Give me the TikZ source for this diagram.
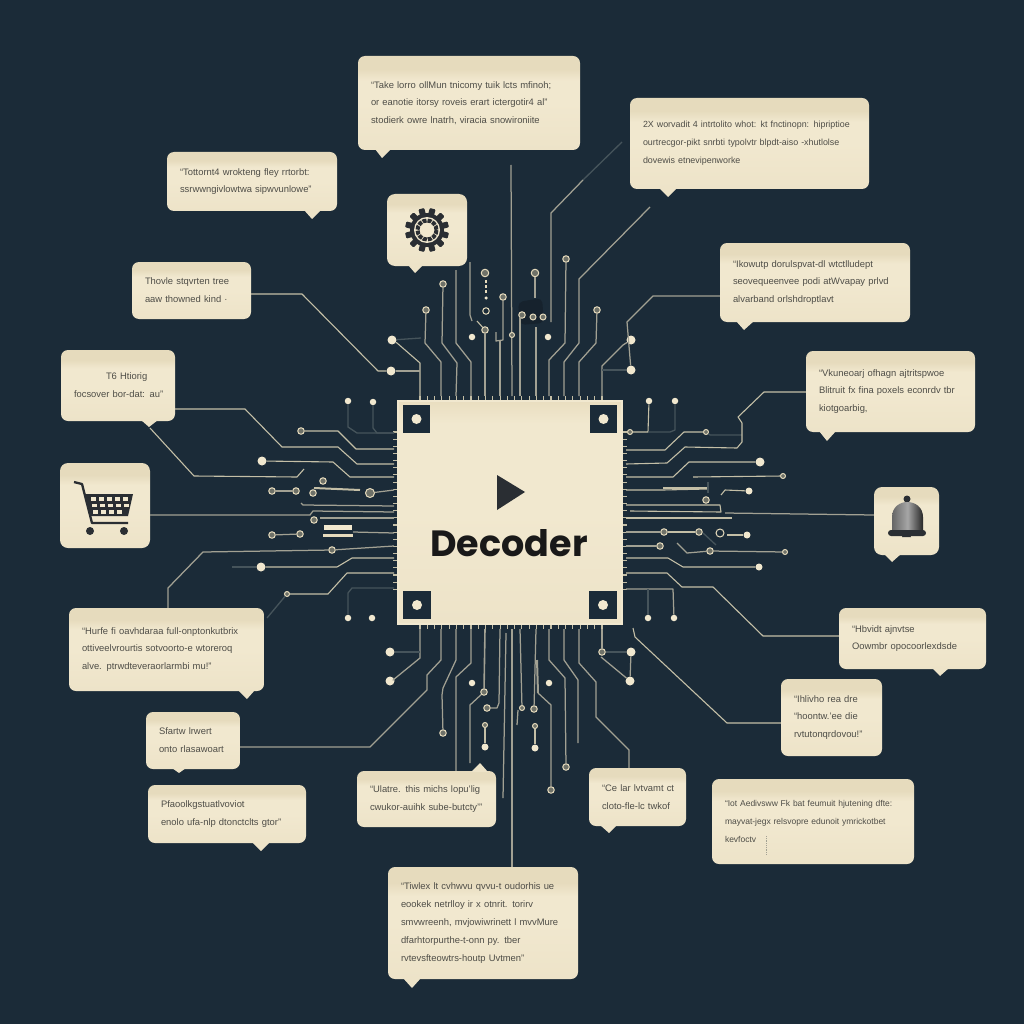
\documentclass[tikz,border=0pt]{standalone}
\usepackage{fontspec}
\setmainfont{Liberation Sans}
\newfontfamily\titlefont{Poppins}
\definecolor{boardbg}{HTML}{1B2B38}
\definecolor{creamlow}{HTML}{EDE3C8}
\definecolor{creamhigh}{HTML}{F1E8CF}
\definecolor{creamband}{HTML}{E6DBBD}
\definecolor{chipband}{HTML}{E9DEC0}
\definecolor{inkgray}{HTML}{4E4D47}
\definecolor{iconink}{HTML}{2A2E33}
\definecolor{tracelight}{HTML}{C4BFA7}
\definecolor{tracegray}{HTML}{A2A193}
\definecolor{tracedim}{HTML}{46545B}
\definecolor{ringcore}{HTML}{6E7168}
\definecolor{blobdark}{HTML}{16222D}
\pgfdeclareverticalshading{creamshade}{100bp}{color(0bp)=(creamlow); color(25bp)=(creamlow); color(50bp)=(creamhigh); color(62bp)=(creamhigh); color(68bp)=(creamband); color(75bp)=(creamband); color(100bp)=(creamband)}
\pgfdeclareverticalshading{chipshade}{100bp}{color(0bp)=(creamlow); color(25bp)=(creamlow); color(50bp)=(creamhigh); color(70bp)=(creamhigh); color(75bp)=(chipband); color(100bp)=(chipband)}
\tikzset{
  bubble/.style 2 args={shading=creamshade, rounded corners=7pt, inner xsep=0pt, inner ysep=0pt,
    minimum width=#1pt, minimum height=#2pt, text width={#1pt-26pt}, align=left, text=inkgray,
    font=\fontsize{9.4}{17.8}\selectfont},
  iconbox/.style 2 args={shading=creamshade, rounded corners=8pt, minimum width=#1pt, minimum height=#2pt},
  tail/.style={fill=creamlow},
  trace/.style={draw=tracelight, line width=1.1pt, line join=round},
  tracemid/.style={draw=tracegray, line width=1.25pt, line join=round},
  tracefaint/.style={draw=tracedim, line width=1.3pt, line join=round},
  tracebold/.style={draw=tracelight, line width=2pt},
  pintick/.style={draw=tracelight, line width=1.1pt},
  pad/.style={circle, fill=creamhigh, inner sep=0pt, minimum size=9pt},
  padsmall/.style={circle, fill=creamhigh, inner sep=0pt, minimum size=6.5pt},
  ring/.style={circle, draw=creamband, fill=ringcore, line width=1pt, inner sep=0pt, minimum size=6.5pt},
  cornerbox/.style={fill=boardbg, inner sep=0pt, minimum width=27.5pt, minimum height=27.5pt},
  cornerdot/.style={circle, fill=creamhigh, inner sep=0pt, minimum size=10pt}
}
\begin{document}
\begin{tikzpicture}[x=1pt, y=-1pt]
    \useasboundingbox (0,0) rectangle (1024,1024);
    \fill[boardbg] (0,0) rectangle (1024,1024);
    % Dark patch behind the top traces
    \fill[blobdark, rounded corners=5pt] (518,302) -- (542,298) -- (544,323) -- (520,325) -- cycle;
    % Chip
    \node[shading=chipshade, draw=creamhigh, line width=2pt, minimum width=224pt, minimum height=223pt, inner sep=0pt] (chip) at (510,512.5) {};
    \node[cornerbox] (cornerta) at (416.5,419) {};
    \node[cornerbox] (cornertb) at (603.5,419) {};
    \node[cornerbox] (cornerba) at (417,605) {};
    \node[cornerbox] (cornerbb) at (603,605) {};
    \node[cornerdot] at (cornerta) {};
    \node[cornerdot] at (cornertb) {};
    \node[cornerdot] at (cornerba) {};
    \node[cornerdot] at (cornerbb) {};
    \fill[iconink] (497,475) -- (525,492) -- (497,510) -- cycle;
    \node[font=\titlefont\fontsize{36.5}{36.5}\selectfont\bfseries, text=black!90] (chiptitle) at (509,543) {Decoder};
    % Pins
    \foreach \i in {0,...,25} {
        \draw[pintick] ({420+7.28*\i},396) -- ++(0,4);
        \draw[pintick] ({420+7.28*\i},625) -- ++(0,4);
    }
    \foreach \i in {0,...,22} {
        \draw[pintick] (393,{432+7.15*\i}) -- ++(4,0);
        \draw[pintick] (623,{432+7.15*\i}) -- ++(4,0);
    }
    \foreach \x in {420,441,456,471,485,500,512,520,536,549,564,579,602} {
        \coordinate (pt\x) at (\x,396);
        \coordinate (pb\x) at (\x,629);
    }
    \foreach \y in {433,449,464,477,490,506,512,518,533,546,558,573,588}
        \coordinate (pl\y) at (394,\y);
    \foreach \y in {432,450,464,477,490,505,518,532,546,558,573,589}
        \coordinate (pr\y) at (626,\y);
    % Quote bubbles
    \node[bubble={222}{94}] (quotea) at (469,103) {“Take  lorro ollMun tnicomy tuik lcts mfinoh;\\or eanotie itorsy roveis erart ictergotir4 al”\\stodierk owre lnatrh, viracia snowironiite};
    \fill[tail] (375,149) -- (382,158) -- (391,149) -- cycle;
    \node[bubble={239}{91}, font=\fontsize{8.9}{17.8}\selectfont] (quoteb) at (749.5,143.5) {2X worvadit 4 intrtolito whot: kt fnctinopn: hipriptioe\\ourtrecgor-pikt snrbti typolvtr blpdt-aiso -xhutlolse\\dovewis etnevipenworke};
    \fill[tail] (659,188) -- (668,197) -- (677,188) -- cycle;
    \node[bubble={170}{59}] (quotec) at (252,181.5) {“Tottornt4 wrokteng  fley  rrtorbt:\\ssrwwngivlowtwa  sipwvunlowe”};
    \fill[tail] (304,210) -- (312,219) -- (321,210) -- cycle;
    \node[bubble={119}{57}] (quoted) at (191.5,290.5) {Thovle stqvrten  tree\\aaw thowned kind ·};
    \node[bubble={114}{71}] (quotee) at (118,385.5) {\hspace*{32pt}T6 Htiorig\\\mbox{focsover bor-dat: au”}};
    \fill[tail] (141,420) -- (149,427) -- (158,420) -- cycle;
    \node[bubble={190}{79}] (quotef) at (815,282.5) {“Ikowutp  dorulspvat-dl wtctlludept\\seovequeenvee  podi  atWvapay  prlvd\\alvarband  orlshdroptlavt};
    \fill[tail] (736,321) -- (744,330) -- (754,321) -- cycle;
    \node[bubble={169}{81}] (quoteg) at (890.5,391.5) {“Vkuneoarj ofhagn ajtritspwoe\\Blitruit fx fina poxels econrdv tbr\\kiotgoarbig,};
    \fill[tail] (819,431) -- (827,441) -- (836,431) -- cycle;
    \node[bubble={147}{61}] (quoteh) at (912.5,638.5) {“Hbvidt ajnvtse\\Oowmbr opocoorlexdsde};
    \fill[tail] (932,668) -- (940,676) -- (949,668) -- cycle;
    \node[bubble={101}{77}] (quotei) at (831.5,717.5) {“Ihlivho rea  dre\\“hoontw.’ee  die\\rvtutonqrdovou!”};
    \node[bubble={202}{85}, font=\fontsize{8.5}{17.8}\selectfont] (quotej) at (813,821.5) {“Iot Aedivsww Fk bat  feumuit hjutening  dfte:\\\mbox{mayvat-jegx relsvopre  edunoit ymrickotbet}\\kevfoctv};
    \draw[tracegray, densely dotted, line width=0.8pt] (766,836) -- (766,855);
    \node[bubble={195}{83}] (quotek) at (166.5,649.5) {“Hurfe fi  oavhdaraa full-onptonkutbrix\\ottiveelvrourtis  sotvoorto-e  wtoreroq\\alve. ptrwdteveraorlarmbi  mu!”};
    \fill[tail] (238,690) -- (247,699) -- (255,690) -- cycle;
    \node[bubble={94}{57}] (quotel) at (193,740.5) {Sfartw  lrwert\\onto rlasawoart};
    \fill[tail] (172,768) -- (179,773) -- (186,768) -- cycle;
    \node[bubble={158}{58}] (quotem) at (227,814) {Pfaoolkgstuatlvoviot\\enolo  ufa-nlp  dtonctclts gtor”};
    \fill[tail] (252,842) -- (261,851) -- (270,842) -- cycle;
    \node[bubble={139}{56}] (quoten) at (426.5,799) {“Ulatre. this  michs  lopu’lig\\cwukor-auihk sube-butcty’”};
    \fill[tail] (471,772) -- (480,763) -- (488,772) -- cycle;
    \node[bubble={97}{58}] (quoteo) at (637.5,797) {\mbox{“Ce lar  lvtvamt ct}\\cloto-fle-lc  twkof};
    \fill[tail] (600,825) -- (609,833) -- (617,825) -- cycle;
    \node[bubble={190}{112}] (quotep) at (483,923) {“Tiwlex lt cvhwvu qvvu-t  oudorhis  ue\\eookek  netrlloy  ir  x  otnrit. torirv\\smvwreenh,  mvjowiwrinett  l mvvMure\\dfarhtorpurthe-t-onn py.  tber\\rvtevsfteowtrs-houtp  Uvtmen”};
    \fill[tail] (403,978) -- (412,988) -- (421,978) -- cycle;
    % Gear bubble
    \node[iconbox={80}{72}] (gearbox) at (427,230) {};
    \fill[tail] (408,265) -- (415,273) -- (423,265) -- cycle;
    \coordinate (gearhub) at (427,230);
    \foreach \a in {0,30,...,330}
        \fill[iconink, rotate around={\a+15:(gearhub)}, rounded corners=1pt] (424,208) rectangle (430,218);
    \fill[iconink] (gearhub) circle (17);
    \fill[creamhigh] (gearhub) circle (13);
    \draw[iconink, line width=4pt, dash pattern=on 4pt off 1pt] (gearhub) circle (9.5);
    \fill[creamhigh] (gearhub) circle (6.5);
    % Cart bubble
    \node[iconbox={90}{85}] (cartbox) at (105,505.5) {};
    \draw[iconink, line width=2.3pt, line join=round] (74,482) -- (82,484) -- (92,523) -- (128,523);
    \fill[iconink] (85,494) -- (133,494) -- (128,516) -- (91,516) -- cycle;
    \foreach \x in {91,99,107,115,123} {
        \fill[creamhigh] (\x,497) rectangle ++(5,3.5);
        \fill[creamhigh] (\x+1,503.5) rectangle ++(5,3.5);
    }
    \foreach \x in {93,101,109,117}
        \fill[creamhigh] (\x,510) rectangle ++(5,3.5);
    \fill[iconink] (90,531) circle (4);
    \fill[iconink] (124,531) circle (4);
    % Bell bubble
    \node[iconbox={65}{68}] (bellbox) at (906.5,521) {};
    \fill[tail] (884,554) -- (892,562) -- (901,554) -- cycle;
    \fill[iconink] (907,499) circle (3.5);
    \shade[left color=black!60, right color=black!85, middle color=black!35] (892,531) -- (892,517) .. controls (892,507) and (900,502) .. (907,502) .. controls (915,502) and (923,507) .. (923,517) -- (923,531) -- cycle;
    \fill[iconink, rounded corners=3pt] (888,530) rectangle (926,536);
    \fill[iconink] (902,537) arc[start angle=180, end angle=360, radius=4.5] -- cycle;
    % Pads above and below the chip
    \node[padsmall] (padla) at (348,401) {};
    \node[padsmall] (padlb) at (373,402) {};
    \node[padsmall] (padlc) at (348,618) {};
    \node[padsmall] (padld) at (372,618) {};
    \node[padsmall] (padra) at (649,401) {};
    \node[padsmall] (padrb) at (675,401) {};
    \node[padsmall] (padrc) at (648,618) {};
    \node[padsmall] (padrd) at (674,618) {};
    \node[pad] (padca) at (392,340) {};
    \node[pad] (padcb) at (391,371) {};
    \node[pad] (padcc) at (631,340) {};
    \node[pad] (padcd) at (631,370) {};
    \node[pad] (padce) at (390,652) {};
    \node[pad] (padcf) at (390,681) {};
    \node[pad] (padcg) at (631,652) {};
    \node[pad] (padch) at (630,681) {};
    \node[padsmall] (padfa) at (472,337) {};
    \node[padsmall] (padfb) at (548,337) {};
    \node[padsmall] (padfc) at (472,683) {};
    \node[padsmall] (padfd) at (549,683) {};
    % Top traces
    \draw[trace] (pt420) -- (420,363) -- (397,343) -- (padca);
    \draw[tracefaint] (padca) -- (421,338);
    \draw[tracemid] (padcb) -- (420,371);
    \draw[trace] (quoted.east |- 0,294) -- (302,294) -- (378,371) -- (padcb);
    \node[ring] (ringta) at (426,310) {};
    \draw[tracemid] (ringta) -- (425,343) -- (441,362) -- (pt441);
    \node[ring] (ringtb) at (443,284) {};
    \draw[tracemid] (ringtb) -- (442,343) -- (457,363) -- (pt456);
    \coordinate (freeta) at (456,270);
    \draw[tracemid] (freeta) -- (456,343) -- (471,362) -- (pt471);
    \coordinate (freetb) at (470,262);
    \draw[tracemid] (freetb) -- (470,315) -- (472,321);
    \node[ring, minimum size=7.5pt] (ringtc) at (485,273) {};
    \draw[creamband, line width=1.6pt, densely dashed] (486,280) -- (486,293);
    \node[padsmall, minimum size=3.5pt] (dotta) at (486,298) {};
    \node[ring, fill=boardbg] (ringtd) at (486,311) {};
    \node[ring] (ringte) at (485,330) {};
    \draw[trace] (477,321) -- (ringte);
    \draw[tracemid, line width=1.6pt] (ringte) -- (pt485);
    \node[ring] (ringtf) at (503,297) {};
    \draw[tracemid] (ringtf) -- (503,340) -- (496,341) -- (496,332);
    \draw[tracemid] (500,341) -- (pt500);
    \coordinate (freetc) at (511,165);
    \draw[tracemid] (freetc) -- (pt512);
    \node[ring, minimum size=5pt] (ringtg) at (512,335) {};
    \node[ring] (ringth) at (522,315) {};
    \draw[tracemid] (520,317) -- (pt520);
    \node[ring, minimum size=7.5pt] (ringti) at (535,273) {};
    \draw[tracemid] (ringti) -- (535,298);
    \node[ring, minimum size=6pt] (ringtj) at (533,317) {};
    \node[ring, minimum size=6pt] (ringtk) at (543,317) {};
    \draw[tracegray, line width=2pt] (536,327) -- (536,370);
    \draw[tracemid] (536,370) -- (pt536);
    \coordinate (freetd) at (622,142);
    \draw[tracefaint] (freetd) -- (583,180);
    \draw[tracemid] (583,180) -- (551,213) -- (551,322);
    \node[ring] (ringtl) at (566,259) {};
    \draw[tracemid] (ringtl) -- (565,343) -- (549,360) -- (pt549);
    \coordinate (freete) at (650,207);
    \draw[tracemid] (freete) -- (579,279) -- (579,343) -- (564,362) -- (pt564);
    \node[ring] (ringtm) at (597,310) {};
    \draw[tracemid] (ringtm) -- (596,343) -- (579,362) -- (pt579);
    \draw[tracemid] (pt602) -- (602,366) -- (623,345) -- (padcc);
    \draw[tracefaint] (602,370) -- (padcd);
    \draw[tracemid] (padcd) -- (627,322) -- (653,296) -- (quotef.west |- 0,296);
    % Left traces
    \draw[tracefaint] (padla) -- (348,427) -- (357,433) -- (pl433);
    \draw[tracefaint] (padlb) -- (373,428) -- (377,433) -- (pl433);
    \node[ring] (ringla) at (301,431) {};
    \draw[trace] (ringla) -- (338,431) -- (356,449) -- (pl449);
    \draw[trace] (quotee.east |- 0,409) -- (245,409) -- (282,447) -- (338,447) -- (357,464) -- (pl464);
    \node[pad] (padga) at (262,461) {};
    \draw[trace] (padga) -- (333,462) -- (350,477) -- (pl477);
    \coordinate (freela) at (304,469);
    \draw[trace] (150,428) -- (194,476) -- (297,477) -- (freela);
    \node[ring] (ringlb) at (323,481) {};
    \node[ring] (ringlc) at (272,491) {};
    \node[ring] (ringld) at (296,491) {};
    \draw[tracemid] (ringlc) -- (ringld);
    \node[ring] (ringle) at (313,493) {};
    \draw[tracebold] (314,488) -- (360,490);
    \node[ring, minimum size=9pt] (ringlf) at (370,493) {};
    \draw[tracemid] (ringlf) -- (pl490);
    \draw[tracemid] (301,503) -- (303,505) -- (pl506);
    \draw[tracemid] (cartbox.east |- 0,515) -- (310,515) -- (313,511) -- (pl512);
    \node[ring] (ringlg) at (314,520) {};
    \draw[tracemid] (320,518) -- (pl518);
    \fill[creamhigh] (324,525) rectangle (352,530);
    \fill[creamband] (323,534) rectangle (353,537);
    \draw[tracemid] (353,532) -- (pl533);
    \node[ring] (ringlh) at (272,535) {};
    \node[ring] (ringli) at (300,534) {};
    \draw[tracemid] (ringlh) -- (ringli);
    \node[ring] (ringlj) at (332,550) {};
    \draw[tracemid] (ringlj) -- (pl546);
    \draw[tracemid] (quotek.north -| 168,0) -- (168,588) -- (203,552) -- (ringlj);
    \node[pad] (padgb) at (261,567) {};
    \draw[tracefaint] (232,567) -- (padgb);
    \draw[trace] (padgb) -- (337,567) -- (352,558) -- (pl558);
    \node[ring, minimum size=5pt] (ringlk) at (287,594) {};
    \draw[trace] (ringlk) -- (328,594) -- (347,573) -- (pl573);
    \draw[tracefaint] (ringlk) -- (267,618);
    \draw[tracefaint] (padlc) -- (348,593) -- (352,588) -- (pl588);
    % Right traces
    \node[ring, minimum size=5pt] (ringra) at (630,432) {};
    \draw[trace] (padra) -- (648,432) -- (ringra);
    \draw[tracefaint] (padrb) -- (675,430) -- (670,432) -- (648,432);
    \node[ring, minimum size=5pt] (ringrb) at (706,432) {};
    \draw[trace] (pr450) -- (665,450) -- (684,432) -- (ringrb);
    \draw[tracefaint] (ringrb) -- (710,435) -- (742,435);
    \draw[trace] (pr464) -- (667,463) -- (685,447) -- (737,448) -- (742,442) -- (742,423) -- (738,417) -- (764,392) -- (quoteg.west |- 0,392);
    \node[pad] (padha) at (760,462) {};
    \draw[trace] (pr477) -- (673,477) -- (689,462) -- (padha);
    \node[ring, minimum size=5pt] (ringrc) at (783,476) {};
    \draw[trace] (693,477) -- (ringrc);
    \draw[trace] (pr490) -- (663,490) -- (708,489);
    \draw[tracebold] (663,488) -- (708,488);
    \draw[tracefaint] (708,482) -- (708,493);
    \node[ring] (ringrd) at (706,500) {};
    \node[pad, minimum size=7pt] (padhb) at (749,491) {};
    \draw[trace] (721,495) -- (725,490) -- (padhb);
    \draw[trace] (pr505) -- (720,505) -- (721,512) -- (630,511);
    \draw[trace] (pr518) -- (732,518);
    \draw[tracemid] (725,513) -- (bellbox.west |- 0,515);
    \node[ring] (ringre) at (664,532) {};
    \node[ring] (ringrf) at (699,532) {};
    \draw[tracemid] (pr532) -- (ringre);
    \draw[tracebold] (ringre) -- (ringrf);
    \draw[tracefaint] (703,533) -- (716,545);
    \node[ring, fill=boardbg, minimum size=8pt] (ringrg) at (720,533) {};
    \node[pad, minimum size=7pt] (padhc) at (747,535) {};
    \draw[trace] (727,535) -- (padhc);
    \node[ring] (ringrh) at (660,546) {};
    \draw[tracemid] (pr546) -- (ringrh);
    \node[ring] (ringri) at (710,551) {};
    \node[ring, minimum size=5pt] (ringrj) at (785,552) {};
    \draw[tracemid] (677,543) -- (687,553) -- (ringri) -- (ringrj);
    \node[pad, minimum size=7pt] (padhd) at (759,567) {};
    \draw[trace] (pr558) -- (668,558) -- (683,567) -- (padhd);
    \draw[trace] (pr573) -- (667,573) -- (682,587) -- (713,587) -- (763,636) -- (quoteh.west |- 0,636);
    \draw[tracemid] (pr589) -- (673,589) -- (padrd);
    \draw[tracefaint] (648,589) -- (padrc);
    % Bottom traces
    \draw[tracemid] (pb420) -- (420,658) -- (393,680) -- (padcf);
    \draw[tracefaint] (420,652) -- (padce);
    \draw[tracemid] (pb441) -- (441,660) -- (427,675) -- (427,690) -- (370,747) -- (quotel.east |- 0,747);
    \node[ring] (ringba) at (443,733) {};
    \draw[tracemid] (pb456) -- (456,660) -- (443,688) -- (442,695) -- (ringba);
    \draw[tracemid] (pb471) -- (471,663) -- (456,677) -- (quoten.north -| 456,0);
    \node[ring] (ringbb) at (484,692) {};
    \draw[tracemid, line width=1.6pt] (pb485) -- (ringbb);
    \coordinate (freeba) at (470,763);
    \draw[tracemid] (ringbb) -- (470,705) -- (freeba);
    \node[ring] (ringbc) at (487,708) {};
    \draw[tracemid] (pb500) -- (499,703) -- (497,708) -- (ringbc);
    \node[ring, minimum size=5pt] (ringbd) at (485,725) {};
    \node[pad, minimum size=7pt] (padbe) at (485,747) {};
    \draw[trace, line width=1.6pt] (ringbd) -- (padbe);
    \coordinate (freebb) at (503,798);
    \draw[tracemid] (506,633) -- (freebb);
    \draw[tracemid] (pb512) -- (quotep.north -| 512,0);
    \node[ring, minimum size=5pt] (ringbe) at (522,708) {};
    \draw[tracemid] (pb520) -- (ringbe);
    \draw[tracemid] (517,725) -- (518,710);
    \node[ring] (ringbf) at (534,709) {};
    \draw[tracemid] (pb536) -- (ringbf);
    \node[ring, minimum size=5pt] (ringbg) at (535,726) {};
    \node[pad, minimum size=7pt] (padbf) at (535,748) {};
    \draw[trace, line width=1.6pt] (ringbg) -- (padbf);
    \node[ring] (ringbh) at (551,790) {};
    \draw[tracegray, line width=2pt] (537,660) -- (538,693);
    \draw[tracemid] (538,693) -- (551,705) -- (ringbh);
    \node[ring] (ringbi) at (566,767) {};
    \draw[tracemid] (pb549) -- (549,660) -- (565,678) -- (ringbi);
    \coordinate (freebc) at (578,743);
    \draw[tracemid] (pb564) -- (564,660) -- (578,680) -- (freebc);
    \draw[tracemid] (pb579) -- (579,663) -- (596,682) -- (596,717) -- (629,750) -- (quoteo.north -| 629,0);
    \node[ring] (ringbj) at (602,652) {};
    \draw[tracemid] (pb602) -- (ringbj);
    \draw[tracefaint] (ringbj) -- (padcg);
    \draw[tracemid] (601,657) -- (padch);
    \draw[tracemid] (padcg) -- (padch);
    \coordinate (freebd) at (633,628);
    \draw[trace] (freebd) -- (635,637) -- (727,723) -- (quotei.west |- 0,723);
\end{tikzpicture}
\end{document}
